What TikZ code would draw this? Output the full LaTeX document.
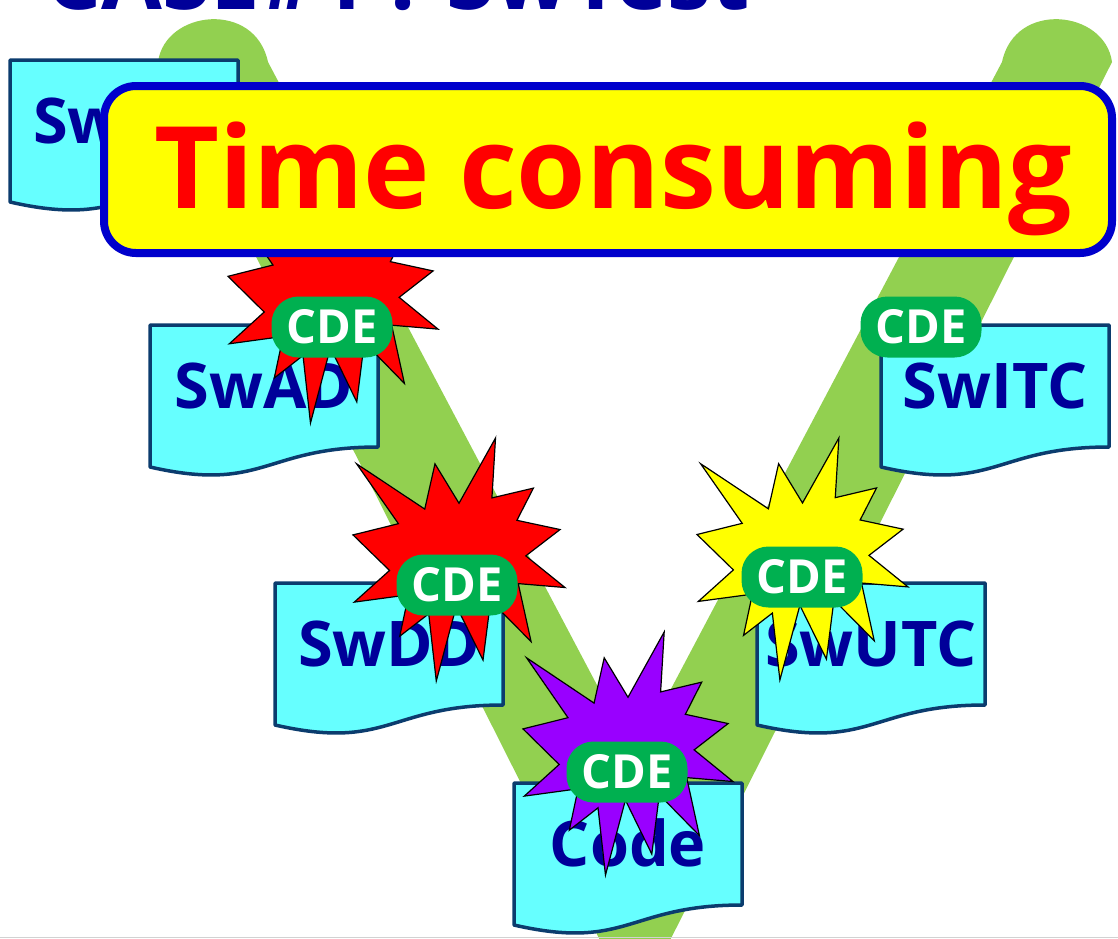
\documentclass[tikz,border=0pt]{standalone}
\usepackage{fontspec}
\setmainfont{Open Sans}
\definecolor{vgreen}{HTML}{92D050}
\definecolor{doccyan}{HTML}{66FFFF}
\definecolor{docedge}{HTML}{0B3C6E}
\definecolor{docblue}{HTML}{000099}
\definecolor{cdegreen}{HTML}{00B050}
\definecolor{boomred}{HTML}{FF0000}
\definecolor{boompurple}{HTML}{9900FF}
\definecolor{boomyellow}{HTML}{FFFF00}
\definecolor{noteblue}{HTML}{0000CC}
\tikzset{
  vband/.style={fill=vgreen, draw=none},
  docshape/.style={fill=doccyan, draw=docedge, line width=3.5pt, line join=round},
  doctext/.style={anchor=base, text=docblue, inner sep=0pt, font=\fontsize{63}{70}\selectfont\bfseries},
  cdebadge/.style={fill=cdegreen, rounded corners=27pt, minimum width=121pt, minimum height=61pt,
    inner sep=0pt, text=white, font=\fontsize{47}{50}\selectfont\bfseries},
  boomline/.style={draw=black, line width=1.2pt, line join=miter},
  notebox/.style={fill=boomyellow, draw=noteblue, line width=8pt, rounded corners=32pt},
  notetext/.style={anchor=base, text=boomred, inner sep=0pt, font=\fontsize{114}{120}\selectfont\bfseries},
  titletext/.style={anchor=base west, text=docblue, inner sep=0pt, font=\fontsize{90}{100}\selectfont\bfseries}
}
\newcommand{\docbox}[4]{%
  \begin{scope}[shift={(#2,#3)}]
    \draw[docshape] (0,0) -- (228,0) -- (228,122) .. controls (114,122) and (114,168) .. (0,142) -- cycle;
    \node[doctext] (#1) at (114,83) {#4};
  \end{scope}}
\newcommand{\boomshape}[5]{%
  \begin{scope}[shift={(#2,#3)}, xscale=#4/1000, yscale=#5/1000]
    \draw[boomline, fill=#1] (500,268.5) -- (672.3,0) -- (655.3,246.5) -- (850.9,206.3) -- (773.2,338.7)
      -- (976.7,376.7) -- (815.1,485.0) -- (1000,615.3) -- (779.5,599.2) -- (840.0,837.7)
      -- (649.1,669.3) -- (613.3,913.8) -- (487.6,691.4) -- (392.8,1000) -- (357.2,723.5)
      -- (220.5,815.6) -- (262.4,645.2) -- (6.25,675.3) -- (172.3,545.1) -- (0,398.8)
      -- (214.2,352.6) -- (17.1,106.25) -- (338.5,292.6) -- (386.7,106.25) -- cycle;
  \end{scope}}
\begin{document}
\begin{tikzpicture}[x=1pt, y=-1pt]
  \useasboundingbox (0,0) rectangle (1118,938);
  \clip (0,0) rectangle (1118,938);
  \fill[white] (0,0) rectangle (1118,938);
  % green V band
  \path[vband] (158,62) .. controls (165,10) and (255,0) .. (268,62)
     -- (635,757) -- (1002,62) .. controls (1015,0) and (1105,10) .. (1112,62)
     -- (640,1000) -- (630,1000) -- cycle;
  % documents
  \begin{scope}[shift={(10,60)}]
    \draw[docshape] (0,0) -- (228,0) -- (228,122) .. controls (114,122) and (114,168) .. (0,142) -- cycle;
    \node[doctext, anchor=base west] (swrs) at (23,83) {SwRS};
  \end{scope}
  \docbox{swad}{150}{325}{SwAD}
  \docbox{swdd}{275}{583}{SwDD}
  \docbox{code}{514}{783}{Code}
  \docbox{swutc}{757}{583}{SwUTC}
  \docbox{switc}{881}{325}{SwITC}
  % explosions
  \boomshape{boomred}{228}{179}{210}{244}
  \boomshape{boomred}{353}{438}{212}{243}
  \boomshape{boompurple}{523}{632}{210}{243}
  \boomshape{boomyellow}{697}{438}{211}{242}
  % CDE badges
  \node[cdebadge] (cde1) at (332,327) {CDE};
  \node[cdebadge] (cde2) at (457,585) {CDE};
  \node[cdebadge] (cde3) at (627,772) {CDE};
  \node[cdebadge] (cde4) at (802,577) {CDE};
  \node[cdebadge] (cde5) at (921,327) {CDE};
  % note
  \draw[notebox] (104,86) rectangle (1112,253);
  \node[notetext] (note) at (613,208) {\scalebox{0.985}[1]{Time consuming}};
  % title (cut off at top)
  \node[titletext] (title) at (45,9) {\scalebox{0.98}[1]{CASE\#1 : SwTest}};
  \draw[gray!35, line width=1.5pt] (0,937.5) -- (1118,937.5);
\end{tikzpicture}
\end{document}
